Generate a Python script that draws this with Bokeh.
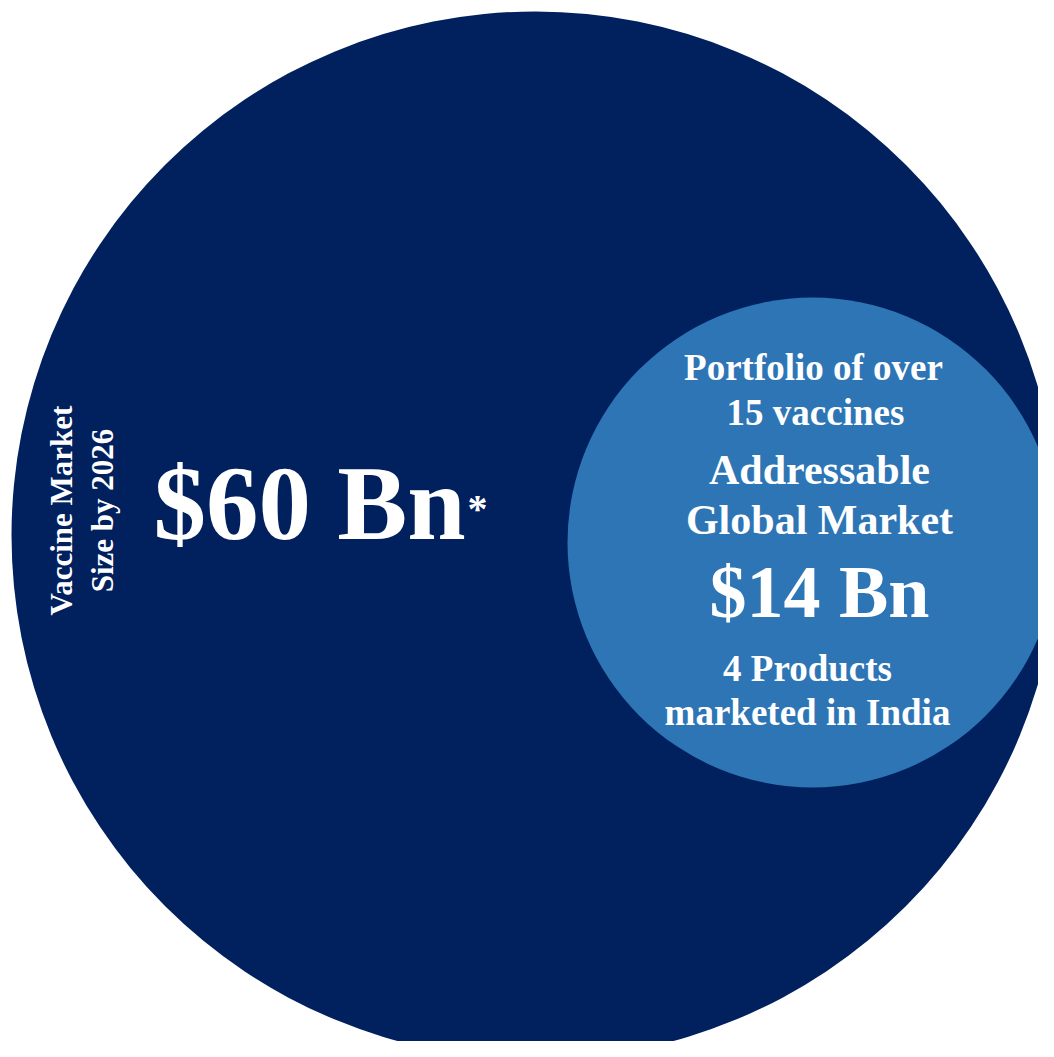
from math import pi
from bokeh.plotting import figure
from bokeh.models import Range1d, ColumnDataSource
from bokeh.core.properties import value
from bokeh.embed import file_html
from bokeh.resources import INLINE

# ---- data ----
market_labels = ["Vaccine Market Size by 2026", "Addressable Global Market"]
market_values_bn = [60, 14]
big_value_text = "$60 Bn"
small_value_text = "$14 Bn"
side_title_lines = ["Vaccine Market", "Size by 2026"]
portfolio_lines = ["Portfolio of over", "15 vaccines"]
addressable_lines = ["Addressable", "Global Market"]
products_lines = ["4 Products", "marketed in India"]

# ---- layout (screen pixels of the figure) ----
W, H = 1038, 1041
def Y(py):
    return H - py

NAVY = "#01205E"
BLUE = "#2E75B6"
FONT = value("Liberation Serif")
BASE_SHIFT = 0.35  # svg baseline correction, in em

p = figure(width=W, height=H, output_backend="svg", toolbar_location=None,
           x_range=Range1d(0, W), y_range=Range1d(0, H),
           min_border=0, outline_line_color=None, background_fill_color="white",
           border_fill_color="white")
p.axis.visible = False
p.grid.visible = False

circles = ColumnDataSource(dict(
    x=[535, 812], y=[Y(535), Y(542)], r=[524, 245],
    color=[NAVY, BLUE], label=market_labels, val=market_values_bn))
p.circle(x="x", y="y", radius="r", fill_color="color", line_color=None, source=circles)

def txt(s, x, py, size, angle=0.0, align="center"):
    if angle:
        x = x - BASE_SHIFT * size
    else:
        py = py - BASE_SHIFT * size
    p.text(x=[x], y=[Y(py)], text=[s], text_font=FONT, text_font_style="bold",
           text_font_size=value(f"{size}px"), text_color="white",
           text_align=align, text_baseline="alphabetic", angle=angle)

# vertical title
txt(side_title_lines[0], 72, 510, 31, angle=pi / 2)
txt(side_title_lines[1], 113, 510, 31, angle=pi / 2)

# big value
txt(big_value_text, 309, 540, 105)
txt("*", 467, 522, 40, align="left")

# small circle texts
txt(portfolio_lines[0], 813, 380, 37)
txt(portfolio_lines[1], 815, 425, 37)
txt(addressable_lines[0], 819, 484, 42)
txt(addressable_lines[1], 819, 534, 42)
txt(small_value_text, 819, 617, 74)
txt(products_lines[0], 807, 681, 37)
txt(products_lines[1], 807, 725, 37)

open("out.html", "w").write(file_html(p, INLINE))
